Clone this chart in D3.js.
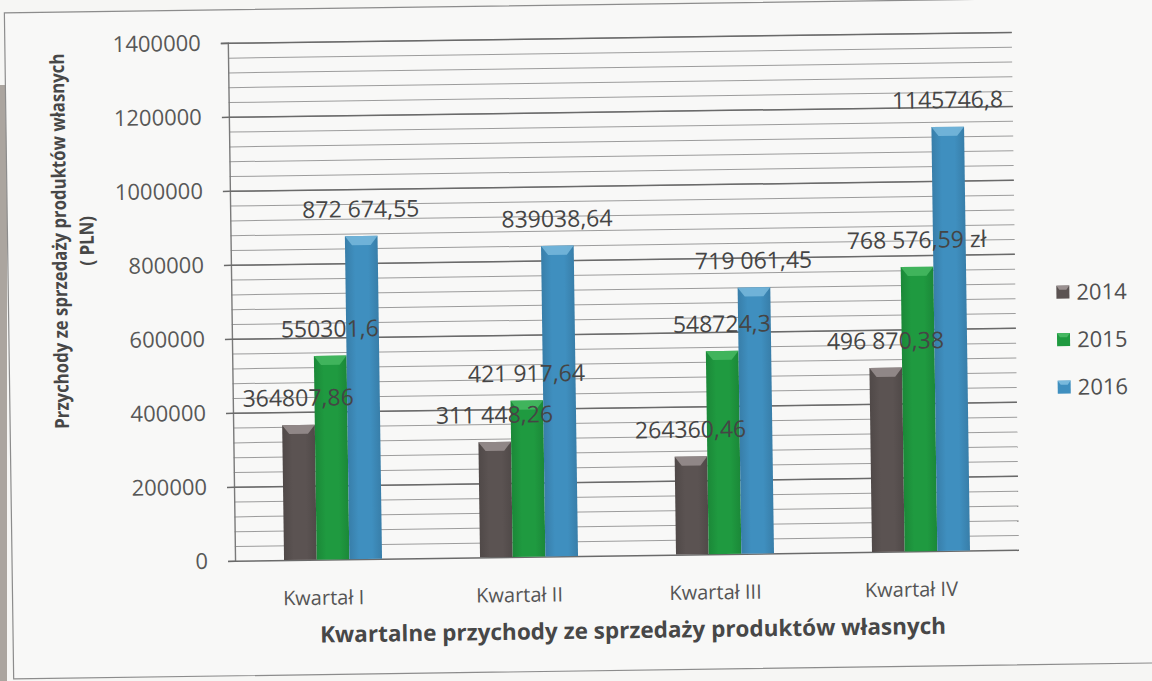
<!DOCTYPE html>
<html>
<head>
<meta charset="utf-8">
<script src="https://cdn.jsdelivr.net/npm/d3@7"></script>
<style>
  body { margin: 0; background: #f6f6f4; }
  svg text { font-family: "Open Sans", "Noto Sans", sans-serif; }
</style>
</head>
<body>
<svg id="chart" width="1152" height="681"></svg>
<script>
// data
const quarters = ["Kwartał I", "Kwartał II", "Kwartał III", "Kwartał IV"];
const years = ["2014", "2015", "2016"];
const values2014 = [364807.86, 311448.26, 264360.46, 496870.38];
const values2015 = [550301.6, 421917.64, 548724.3, 768576.59];
const values2016 = [872674.55, 839038.64, 719061.45, 1145746.8];
const labels2014 = ["364807,86", "311 448,26", "264360,46", "496 870,38"];
const labels2015 = ["550301,6", "421 917,64", "548724,3", "768 576,59 zł"];
const labels2016 = ["872 674,55", "839038,64", "719 061,45", "1145746,8"];
const yTicks = [0, 200000, 400000, 600000, 800000, 1000000, 1200000, 1400000];

const series = [values2014, values2015, values2016];
const seriesLabels = [labels2014, labels2015, labels2016];

const colors = ["#5b5352", "#1f9a40", "#3f8fbf"];
const bevel = ["#9a9090", "#46b862", "#78b9dc"];

let svg = d3.select("#chart");

// scanner edge on the left
svg.append("rect")
    .attr("x", 0).attr("y", 85).attr("width", 7).attr("height", 596)
    .attr("fill", "#aba59f");

// the scan is slightly tilted
let page = svg.append("g").attr("transform", "rotate(-0.8, 576, 340)");

page.append("rect")
    .attr("x", 9).attr("y", 5)
    .attr("width", 1170).attr("height", 666)
    .attr("fill", "#f8f8f7")
    .attr("stroke", "#8c8c8c")
    .attr("stroke-width", 1.2);

const plotLeft = 232, plotRight = 1016, plotTop = 38, plotBottom = 556;

let y = d3.scaleLinear().domain([0, 1400000]).range([plotBottom, plotTop]);
let x0 = d3.scaleBand().domain(quarters).range([plotLeft, plotRight])
    .paddingInner(0.5).paddingOuter(0.25);
let x1 = d3.scaleBand().domain(years).range([0, x0.bandwidth()]);

// minor gridlines every 40000
page.append("g")
    .attr("transform", `translate(${plotLeft},0)`)
    .call(d3.axisLeft(y).tickValues(d3.range(40000, 1400001, 40000))
        .tickSize(-(plotRight - plotLeft)).tickFormat(""))
    .call(g => g.select(".domain").remove())
    .call(g => g.selectAll("line").attr("stroke", "#9c9c9c").attr("stroke-width", 1));

// major gridlines + labels
let yAxis = page.append("g")
    .attr("transform", `translate(${plotLeft},0)`)
    .call(d3.axisLeft(y).tickValues(yTicks).tickSize(7).tickPadding(20)
        .tickFormat(d3.format("d")));
yAxis.select(".domain").attr("stroke", "#7a7a7a").attr("stroke-width", 1.4);
yAxis.selectAll(".tick line").attr("stroke", "#6a6a6a").attr("stroke-width", 1.5);
yAxis.selectAll(".tick").append("line")
    .attr("x2", plotRight - plotLeft)
    .attr("stroke", "#6a6a6a").attr("stroke-width", 1.5);
yAxis.selectAll("text")
    .attr("font-size", 22).attr("fill", "#585858")
    .style("font-family", "'Open Sans', sans-serif");

// gradients for the bars
let defs = svg.append("defs");
colors.forEach((c, i) => {
    let g = defs.append("linearGradient").attr("id", "bar" + i)
        .attr("x1", "0%").attr("x2", "100%");
    g.append("stop").attr("offset", "0%").attr("stop-color", d3.color(c).darker(0.35));
    g.append("stop").attr("offset", "30%").attr("stop-color", c);
    g.append("stop").attr("offset", "70%").attr("stop-color", c);
    g.append("stop").attr("offset", "100%").attr("stop-color", d3.color(c).darker(0.35));
});

let rows = quarters.map((q, qi) => years.map((yr, si) => ({
    quarter: q, year: yr, si: si,
    value: series[si][qi], label: seriesLabels[si][qi]
})));

let groups = page.selectAll(".grp")
    .data(rows)
    .enter().append("g")
    .attr("class", "grp")
    .attr("transform", (d, i) => `translate(${x0(quarters[i])},0)`);

let bars = groups.selectAll(".bar")
    .data(d => d)
    .enter().append("g").attr("class", "bar");

bars.append("rect")
    .attr("x", d => x1(d.year))
    .attr("y", d => y(d.value))
    .attr("width", x1.bandwidth())
    .attr("height", d => y(0) - y(d.value))
    .attr("fill", d => `url(#bar${d.si})`);

// bevelled top edge
bars.append("path")
    .attr("d", d => {
        let bx = x1(d.year), bw = x1.bandwidth(), by = y(d.value);
        return `M${bx},${by}H${bx + bw}L${bx + bw - 7},${by + 9}H${bx + 7}Z`;
    })
    .attr("fill", d => bevel[d.si])
    .attr("opacity", 0.85);

// value labels on top of every bar
page.append("g")
    .selectAll("text")
    .data(rows.flat())
    .enter().append("text")
    .attr("x", d => x0(d.quarter) + x1(d.year) + x1.bandwidth() / 2)
    .attr("y", d => y(d.value) - 27)
    .attr("dy", "0.35em")
    .attr("text-anchor", "middle")
    .attr("font-size", 23)
    .attr("fill", "#454545")
    .text(d => d.label);

// category labels
let xAxis = page.append("g")
    .attr("transform", `translate(0,${plotBottom})`)
    .call(d3.axisBottom(x0).tickSize(0).tickPadding(31));
xAxis.select(".domain").remove();
xAxis.selectAll("text")
    .attr("dx", -10)
    .attr("font-size", 20).attr("fill", "#555")
    .style("font-family", "'Open Sans', sans-serif");

// axis titles
page.append("text")
    .attr("x", 629).attr("y", 631)
    .attr("dy", "0.35em")
    .attr("text-anchor", "middle")
    .attr("font-size", 22.5).attr("font-weight", "bold")
    .attr("fill", "#474747")
    .text("Kwartalne przychody ze sprzedaży produktów własnych");

// narrow the rotated title a little, like the original font
let yTitle = page.append("text")
    .attr("transform", "translate(61,234) rotate(-90) scale(0.86,1)")
    .attr("text-anchor", "middle")
    .attr("font-size", 19.5).attr("font-weight", "bold")
    .attr("fill", "#474747");
yTitle.append("tspan").attr("x", 0).attr("dy", "0.35em")
    .text("Przychody ze sprzedaży produktów własnych");
yTitle.append("tspan").attr("x", 0).attr("dy", "1.4em")
    .text("( PLN)");

// legend
let legend = page.append("g").attr("transform", "translate(1057,299)");
let items = legend.selectAll(".item")
    .data(years)
    .enter().append("g")
    .attr("transform", (d, i) => `translate(0,${i * 47.5})`);
items.append("rect")
    .attr("x", 0).attr("y", -6.5)
    .attr("width", 13).attr("height", 13)
    .attr("fill", (d, i) => colors[i]);
items.append("path")
    .attr("d", "M0,-6.5H13L10,-2.5H3Z")
    .attr("fill", (d, i) => bevel[i]);
items.append("text")
    .attr("x", 20).attr("dy", "0.35em")
    .attr("font-size", 22).attr("fill", "#505050")
    .text(d => d);
</script>
</body>
</html>
